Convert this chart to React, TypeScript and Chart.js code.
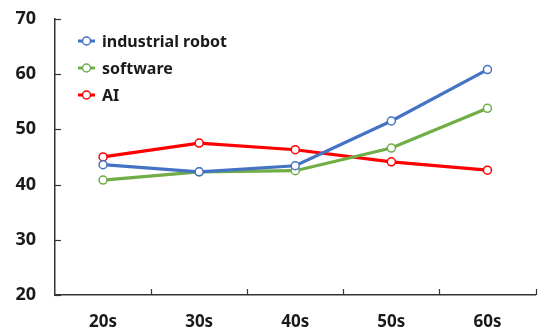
import React, { useEffect, useRef } from "react";
import { Chart, registerables } from "chart.js";

Chart.register(...registerables);

const categories = ["20s", "30s", "40s", "50s", "60s"];
const industrialRobot = [43.6, 42.3, 43.4, 51.5, 60.8];
const software = [40.8, 42.3, 42.5, 46.6, 53.8];
const ai = [45.0, 47.5, 46.3, 44.1, 42.6];
const seriesNames = ["industrial robot", "software", "AI"];
const seriesColors = ["#4472C4", "#70AD47", "#FF0000"];
const yTicks = [20, 30, 40, 50, 60, 70];

const FONT = "'Noto Sans', 'DejaVu Sans', sans-serif";
const AXIS = "#333333";
const SHIFT = 11;

const tickPlugin = {
  id: "innerTicks",
  afterDraw(chart: any) {
    const { ctx, chartArea, scales } = chart;
    const x = scales.x;
    const y = scales.y;
    ctx.save();
    ctx.strokeStyle = AXIS;
    ctx.lineWidth = 1.2;
    yTicks.forEach((v) => {
      const py = Math.round(y.getPixelForValue(v)) + 0.5;
      ctx.beginPath();
      ctx.moveTo(chartArea.left, py);
      ctx.lineTo(chartArea.left + 6, py);
      ctx.stroke();
    });
    const n = categories.length;
    for (let i = 1; i <= n; i++) {
      const px = Math.round(x.getPixelForValue(i - 0.5)) + 0.5;
      ctx.beginPath();
      ctx.moveTo(px, chartArea.bottom);
      ctx.lineTo(px, chartArea.bottom - 6);
      ctx.stroke();
    }
    ctx.restore();
  },
};

const legendPlugin = {
  id: "insideLegend",
  afterDraw(chart: any) {
    const { ctx } = chart;
    ctx.save();
    ctx.font = `bold 16px ${FONT}`;
    ctx.textBaseline = "middle";
    seriesNames.forEach((name, i) => {
      const cy = 41 + SHIFT + i * 27;
      const color = seriesColors[i];
      ctx.strokeStyle = color;
      ctx.lineWidth = 3;
      ctx.beginPath();
      ctx.moveTo(78, cy);
      ctx.lineTo(95, cy);
      ctx.stroke();
      ctx.beginPath();
      ctx.arc(86.5, cy, 4, 0, Math.PI * 2);
      ctx.fillStyle = "#ffffff";
      ctx.fill();
      ctx.lineWidth = 1.5;
      ctx.stroke();
      ctx.fillStyle = "#1a1a1a";
      ctx.fillText(name, 102, cy + 1);
    });
    ctx.restore();
  },
};

export default function App() {
  const ref = useRef<HTMLCanvasElement>(null);
  useEffect(() => {
    document.body.style.margin = "0";
    const canvas = ref.current!;
    const data = [industrialRobot, software, ai];
    const chart = new Chart(canvas, {
      type: "line",
      data: {
        labels: categories,
        datasets: seriesNames.map((name, i) => ({
          label: name,
          data: data[i],
          borderColor: seriesColors[i],
          backgroundColor: "#ffffff",
          borderWidth: 3.2,
          pointRadius: 4,
          pointBorderWidth: 1.5,
          pointBackgroundColor: "#ffffff",
          pointBorderColor: seriesColors[i],
          tension: 0,
        })),
      },
      options: {
        animation: false,
        responsive: false,
        maintainAspectRatio: false,
        layout: { padding: { top: 6, right: 3, left: 0, bottom: 0 } },
        plugins: {
          legend: { display: false },
          tooltip: { enabled: false },
        },
        scales: {
          x: {
            offset: true,
            grid: { display: false, drawTicks: false },
            border: { display: true, color: AXIS, width: 1.5 },
            ticks: {
              padding: 17,
              color: "#1a1a1a",
              font: { family: FONT, size: 17, weight: "bold" },
            },
            afterFit(scale: any) {
              scale.height = 34;
            },
          },
          y: {
            min: 20,
            max: 70,
            grid: { display: false, drawTicks: false },
            border: { display: true, color: AXIS, width: 1.5 },
            afterBuildTicks(scale: any) {
              scale.ticks = yTicks.map((v) => ({ value: v }));
            },
            ticks: {
              padding: 19,
              color: "#1a1a1a",
              font: { family: FONT, size: 18, weight: "bold" },
            },
            afterFit(scale: any) {
              scale.width = 55;
            },
          },
        },
      },
      plugins: [tickPlugin, legendPlugin],
    });
    return () => chart.destroy();
  }, []);
  return (
    <div style={{ width: 541, height: 329, position: "relative", overflow: "hidden" }}>
      <canvas
        ref={ref}
        width={541}
        height={329 + SHIFT}
        style={{ display: "block", marginTop: -SHIFT }}
      />
    </div>
  );
}
